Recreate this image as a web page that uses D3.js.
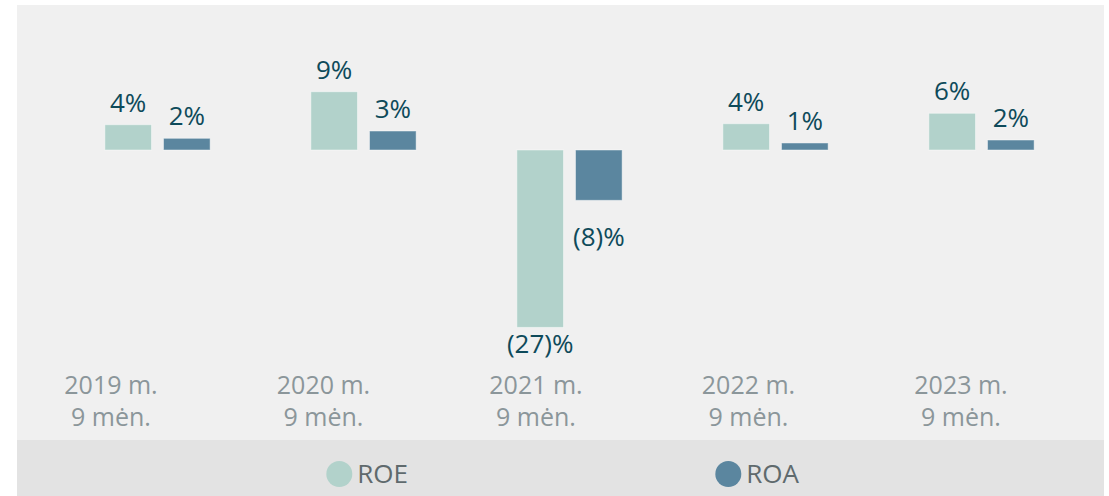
<!DOCTYPE html>
<html>
<head>
<meta charset="utf-8">
<script src="https://cdn.jsdelivr.net/npm/d3@7"></script>
<style>
  body { margin: 0; background: #fff; }
  text { font-family: "Open Sans", "Noto Sans", sans-serif; }
</style>
</head>
<body>
<div id="chart"></div>
<script>
// data (percent)
const periods = ["2019", "2020", "2021", "2022", "2023"];
const periodLine1 = ["2019 m.", "2020 m.", "2021 m.", "2022 m.", "2023 m."];
const periodLine2 = ["9 mėn.", "9 mėn.", "9 mėn.", "9 mėn.", "9 mėn."];
const seriesNames = ["ROE", "ROA"];
const roe = [3.85, 8.87, -27.0, 4.0, 5.59];
const roa = [1.78, 2.89, -7.66, 1.07, 1.52];
const roeLabels = ["4%", "9%", "(27)%", "4%", "6%"];
const roaLabels = ["2%", "3%", "(8)%", "1%", "2%"];

const colors = { ROE: "#b2d2cb", ROA: "#5b869f" };

const W = 1109, H = 496;

const svg = d3.select("#chart")
    .append("svg")
    .attr("width", W)
    .attr("height", H);

// panels
svg.append("rect")
    .attr("x", 17).attr("y", 5)
    .attr("width", 1087).attr("height", 435)
    .attr("fill", "#f0f0f0");
svg.append("rect")
    .attr("x", 17).attr("y", 440)
    .attr("width", 1087).attr("height", 56)
    .attr("fill", "#e3e3e3");

// scales
var x0 = d3.scaleBand()
    .domain(periods)
    .range([54.5, 1084.5])
    .paddingInner(0.489)
    .paddingOuter(0.2445);

var x1 = d3.scaleBand()
    .domain(seriesNames)
    .range([0, x0.bandwidth()])
    .paddingInner(0.205);

var y = d3.scaleLinear()
    .domain([-30, 10])
    .range([347.1, 84.3]);

// label axis sits a little left of the bars
var xl = d3.scalePoint()
    .domain(periods)
    .range([111, 961]);

const rows = periods.map((p, i) => [
    { period: p, key: "ROE", value: roe[i], label: roeLabels[i] },
    { period: p, key: "ROA", value: roa[i], label: roaLabels[i] }
]);

const groups = svg.append("g")
    .selectAll("g")
    .data(rows)
    .enter()
    .append("g")
    .attr("transform", d => "translate(" + x0(d[0].period) + ",0)");

groups.selectAll("rect")
    .data(d => d)
    .enter()
    .append("rect")
    .attr("x", d => x1(d.key))
    .attr("y", d => y(Math.max(0, d.value)))
    .attr("width", x1.bandwidth())
    .attr("height", d => Math.abs(y(d.value) - y(0)))
    .attr("fill", d => colors[d.key])
    .attr("stroke", "rgba(255,255,255,0.45)")
    .attr("stroke-width", 1);

groups.selectAll("text")
    .data(d => d)
    .enter()
    .append("text")
    .attr("x", d => x1(d.key) + x1.bandwidth() / 2)
    .attr("y", d => d.value >= 0
        ? y(d.value) - 13
        : y(d.value) + (d.key == "ROA" ? 46 : 26))
    .attr("text-anchor", "middle")
    .attr("font-size", 26)
    .attr("fill", "#0e4a5a")
    .text(d => d.label);

// category labels
const ticks = svg.append("g")
    .selectAll("text")
    .data(periods)
    .enter()
    .append("text")
    .attr("text-anchor", "middle")
    .attr("font-size", 25)
    .attr("fill", "#8b969a");

ticks.append("tspan")
    .attr("x", d => xl(d))
    .attr("y", 394)
    .text((d, i) => periodLine1[i]);
ticks.append("tspan")
    .attr("x", d => xl(d))
    .attr("y", 426)
    .text((d, i) => periodLine2[i]);

// legend
var lx = d3.scalePoint()
    .domain(seriesNames)
    .range([339.3, 728.3]);

const legend = svg.append("g")
    .selectAll("g")
    .data(seriesNames)
    .enter()
    .append("g")
    .attr("transform", d => "translate(" + lx(d) + ",474)");

legend.append("circle")
    .attr("r", 13)
    .attr("fill", d => colors[d]);

legend.append("text")
    .attr("x", 18)
    .attr("y", 9)
    .attr("font-size", 26)
    .attr("fill", "#5f6a6d")
    .text(d => d);
</script>
</body>
</html>
